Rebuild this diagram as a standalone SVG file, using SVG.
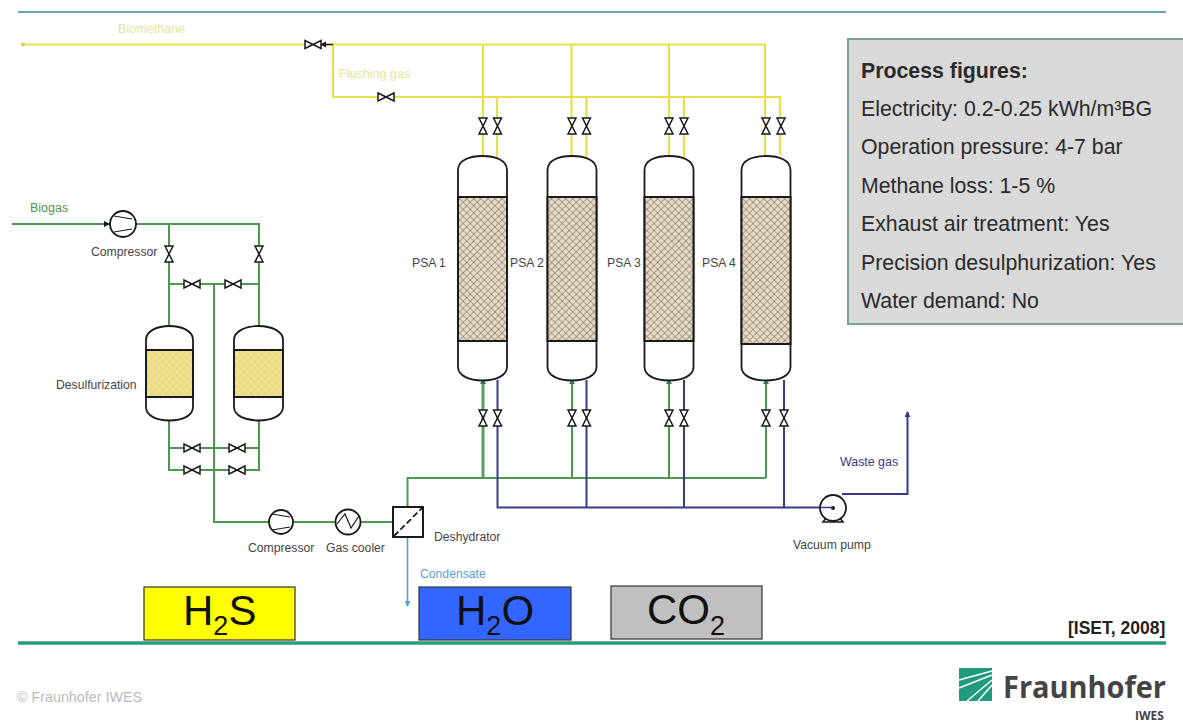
<svg xmlns="http://www.w3.org/2000/svg" width="1183" height="724" viewBox="0 0 1183 724">
<style>
text{font-family:"Liberation Sans",Arial,sans-serif}
.lbl{font-size:12.2px;fill:#444}
.y{fill:none;stroke:#e8e04a;stroke-width:2.2}
.yt{font-size:12.6px;fill:#e6e49c}
.g{fill:none;stroke:#4c9a50;stroke-width:2}
.gb{fill:none;stroke:#5a9a60;stroke-width:3}
.b{fill:none;stroke:#3a3a8c;stroke-width:2}
.v{fill:#fff;stroke:#1a1a1a;stroke-width:1.5;stroke-linejoin:miter}
.ves{fill:#fff;stroke:#1a1a1a;stroke-width:1.8}
.bed{stroke:#1a1a1a;stroke-width:2}
.sym{fill:#fff;stroke:#1a1a1a;stroke-width:1.8}
.fig{font-size:21.3px;fill:#2a2a2a}
.chem{font-size:42px;fill:#111}
.sub{font-size:27px}
.box{stroke:#333;stroke-width:1.2}
.tip{fill:#1a1a1a;stroke:none}
</style>
<defs>
<path id="vv" d="M-4,-8H4L-4,8H4Z"/>
<path id="hv" d="M-8,-4V4L8,-4V4Z"/>
<pattern id="hatchP" width="5" height="5" patternUnits="userSpaceOnUse" patternTransform="rotate(45)">
<rect width="5" height="5" fill="#e6dac4"/><path d="M0,0H5M0,0V5" stroke="#75695a" stroke-width="1.100"/>
</pattern>
<pattern id="hatchD" width="5" height="5" patternUnits="userSpaceOnUse" patternTransform="rotate(45)">
<rect width="5" height="5" fill="#f2e28e"/><path d="M0,0H5M0,0V5" stroke="#dccd80" stroke-width="1"/>
</pattern>
<marker id="ah" markerWidth="6" markerHeight="6" refX="5" refY="3" orient="auto" markerUnits="userSpaceOnUse"><path d="M0,0L6,3L0,6Z" fill="context-stroke"/></marker>
</defs>
<rect width="1183" height="724" fill="#fff"/>
<g id="frame">
<path d="M18,12H1166" stroke="#6aaa9c" stroke-width="2" fill="none"/>
<path d="M18,643H1166" stroke="#2a9a80" stroke-width="3.500" fill="none"/>
</g>
<g id="connectors">
<path class="y" d="M22,44.500H765V155"/>
<circle cx="23" cy="44.500" r="2" fill="#d8d04a"/>
<path class="y" d="M333,44.500V97H780V155"/>
<path class="y" d="M483,44.500V156M571.500,44.500V156M669,44.500V156"/>
<path class="y" d="M497,97V158M586.500,97V158M684,97V158"/>
<path class="gb" d="M483,381V478"/>
<path class="g" d="M572,381V478M669,381V478M766,381V478M407.500,507V478H766"/>
<path class="b" d="M497.500,380V507.500H820M586.500,380V507.500M684,380V507.500M784,380V507.500"/>
<path class="b" d="M842,494H907.500V412" marker-end="url(#ah)"/>
<path d="M407.500,537V606" fill="none" stroke="#5a9ed0" stroke-width="1.600" marker-end="url(#ah)"/>
<path class="g" d="M12,224H259V326M169,224V326M169,284H259M214,284V522H393M169,421V470H259V421M169,448H259"/>
<path class="tip" d="M320,44.500L326,41.500V47.500Z"/>
<path d="M326,44.500H333" stroke="#1a1a1a" stroke-width="1.500"/>
<path class="tip" d="M110,224L104,221V227Z"/>
<path class="tip" d="M483,379L480,384H486ZM572,379L569,384H575ZM669,379L666,384H672ZM766,379L763,384H769Z" style="fill:#3c7a44"/>
</g>
<g id="valves" class="v">
<use href="#hv" x="313" y="44.500"/><use href="#hv" x="386" y="97"/>
<use href="#vv" x="483" y="126"/><use href="#vv" x="497.500" y="126"/>
<use href="#vv" x="572" y="126"/><use href="#vv" x="586.500" y="126"/>
<use href="#vv" x="669" y="126"/><use href="#vv" x="684" y="126"/>
<use href="#vv" x="766" y="126"/><use href="#vv" x="781" y="126"/>
<use href="#vv" x="483" y="418"/><use href="#vv" x="497.500" y="418"/>
<use href="#vv" x="572" y="418"/><use href="#vv" x="586.500" y="418"/>
<use href="#vv" x="669" y="418"/><use href="#vv" x="684" y="418"/>
<use href="#vv" x="766" y="418"/><use href="#vv" x="784" y="418"/>
<use href="#vv" x="169" y="254"/><use href="#vv" x="259" y="254"/>
<use href="#hv" x="192" y="284"/><use href="#hv" x="233" y="284"/>
<use href="#hv" x="192" y="448"/><use href="#hv" x="237" y="448"/>
<use href="#hv" x="192" y="470"/><use href="#hv" x="237" y="470"/>
</g>
<g id="psa1"><path class="ves" d="M458,170C458,160 470,156 482.500,156C495,156 507,160 507,170V367C507,376 495,380.500 482.500,380.500C470,380.500 458,376 458,367Z"/><rect class="bed" x="458" y="197" width="49" height="144" fill="url(#hatchP)"/><text class="lbl" x="412" y="267">PSA 1</text></g>
<g id="psa2"><path class="ves" d="M547.500,170C547.500,160 559,156 572,156C585,156 596.500,160 596.500,170V367C596.500,376 585,380.500 572,380.500C559,380.500 547.500,376 547.500,367Z"/><rect class="bed" x="547.500" y="197" width="49" height="144" fill="url(#hatchP)"/><text class="lbl" x="510" y="267">PSA 2</text></g>
<g id="psa3"><path class="ves" d="M644.500,170C644.500,160 656,156 669,156C682,156 693.500,160 693.500,170V367C693.500,376 682,380.500 669,380.500C656,380.500 644.500,376 644.500,367Z"/><rect class="bed" x="644.500" y="197" width="49" height="144" fill="url(#hatchP)"/><text class="lbl" x="607" y="267">PSA 3</text></g>
<g id="psa4"><path class="ves" d="M741.500,170C741.500,160 753,156 766,156C779,156 790.500,160 790.500,170V367C790.500,376 779,380.500 766,380.500C753,380.500 741.500,376 741.500,367Z"/><rect class="bed" x="741.500" y="197" width="49" height="147" fill="url(#hatchP)"/><text class="lbl" x="702" y="267">PSA 4</text></g>
<g id="desulf1"><path class="ves" d="M146,340C146,331 157,326 169.500,326C182,326 193,331 193,340V407C193,416 182,420.500 169.500,420.500C157,420.500 146,416 146,407Z"/><rect class="bed" x="146" y="350" width="47" height="47" fill="url(#hatchD)"/><text class="lbl" x="56" y="389">Desulfurization</text></g>
<g id="desulf2"><path class="ves" d="M234,340C234,331 246,326 258.500,326C271,326 283,331 283,340V407C283,416 271,420.500 258.500,420.500C246,420.500 234,416 234,407Z"/><rect class="bed" x="234" y="350" width="49" height="47" fill="url(#hatchD)"/></g>
<g id="compressor1"><circle class="sym" cx="123" cy="224" r="13"/><path d="M114,216L132,219M114,232L132,229" stroke="#1a1a1a" stroke-width="1.200" fill="none"/><text class="lbl" x="91" y="256">Compressor</text></g>
<g id="compressor2"><circle class="sym" cx="281" cy="522" r="12"/><path d="M272,514L290,517M272,530L290,527" stroke="#1a1a1a" stroke-width="1.200" fill="none"/><text class="lbl" x="248" y="552">Compressor</text></g>
<g id="cooler"><circle class="sym" cx="348" cy="522" r="12.500"/><path d="M337,524L345,514L351,528L359,516" fill="none" stroke="#1a1a1a" stroke-width="1.200"/><text class="lbl" x="326" y="552">Gas cooler</text></g>
<g id="dehydrator"><rect x="393" y="507" width="30" height="30" fill="#fff" stroke="#1a1a1a" stroke-width="2"/><path d="M394,536L422,508" stroke="#1a1a1a" stroke-width="1.800" stroke-dasharray="6 3"/><text class="lbl" x="434" y="541">Deshydrator</text></g>
<g id="pump"><path d="M823,522L826,518H840L843,522Z" fill="#fff" stroke="#1a1a1a" stroke-width="1.600"/><circle class="sym" cx="833" cy="508" r="13"/><circle cx="833" cy="508" r="2" fill="#1a1a1a"/><path d="M821,507.500H833" stroke="#3a3a8c" stroke-width="1.500"/><text class="lbl" x="793" y="549">Vacuum pump</text></g>
<g id="labels">
<text class="yt" x="118" y="33">Biomethane</text>
<text class="yt" x="339" y="78">Flushing gas</text>
<text x="30" y="212" font-size="12.500" fill="#4c9a50">Biogas</text>
<text x="840" y="466" font-size="12.400" fill="#3a3a8c">Waste gas</text>
<text x="420" y="578" font-size="12.200" fill="#5a9ed0">Condensate</text>
<text x="1068" y="634" font-size="17.500" font-weight="700" fill="#222">[ISET, 2008]</text>
<text x="17" y="702" font-size="14.300" fill="#bbb">© Fraunhofer IWES</text>
</g>
<g id="process-figures">
<rect x="848" y="39" width="336" height="285" fill="#d9d9d9" stroke="#7f9f98" stroke-width="2"/>
<text class="fig" x="861" y="78" font-weight="700">Process figures:</text>
<text class="fig" x="861" y="116">Electricity: 0.2-0.25 kWh/m³BG</text>
<text class="fig" x="861" y="154">Operation pressure: 4-7 bar</text>
<text class="fig" x="861" y="193">Methane loss: 1-5 %</text>
<text class="fig" x="861" y="231">Exhaust air treatment: Yes</text>
<text class="fig" x="861" y="270">Precision desulphurization: Yes</text>
<text class="fig" x="861" y="308">Water demand: No</text>
</g>
<g id="h2s"><rect class="box" x="144" y="587" width="151" height="53" fill="#ffff00"/><text class="chem" x="183" y="625">H<tspan class="sub" dy="10">2</tspan><tspan dy="-10">S</tspan></text></g>
<g id="h2o"><rect class="box" x="419" y="587" width="152" height="53" fill="#3366ff"/><text class="chem" x="456" y="625">H<tspan class="sub" dy="10">2</tspan><tspan dy="-10">O</tspan></text></g>
<g id="co2"><rect class="box" x="611" y="586" width="151" height="53" fill="#c0c0c0"/><text class="chem" x="647" y="624">CO<tspan class="sub" dy="11">2</tspan></text></g>
<g id="logo">
<rect x="959" y="668" width="33" height="33" fill="#1f9a7c"/>
<path d="M959,680L992,671M959,688L992,675M967,701L992,680M978,701L992,685" stroke="#fff" stroke-width="1.500" fill="none"/>
<text x="1003" y="698" font-size="30" font-weight="700" fill="#444" textLength="163" lengthAdjust="spacingAndGlyphs" style="font-family:'Open Sans','Liberation Sans',sans-serif">Fraunhofer</text>
<text x="1135" y="720" font-size="12" font-weight="700" fill="#444" style="font-family:'Open Sans','Liberation Sans',sans-serif">IWES</text>
</g>
</svg>
